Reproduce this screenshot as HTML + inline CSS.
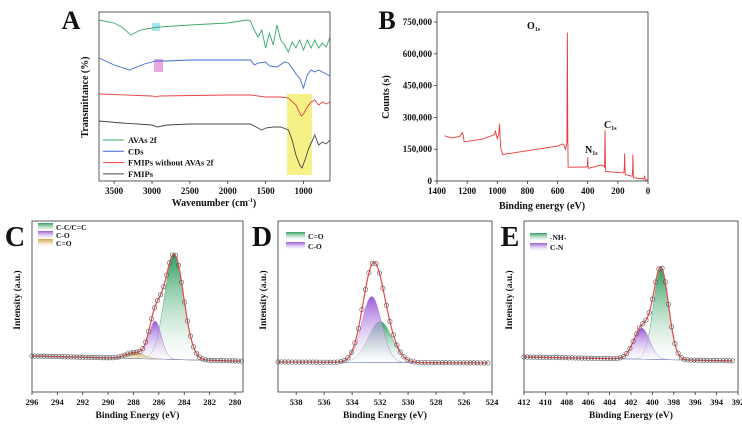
<!DOCTYPE html>
<html><head><meta charset="utf-8"><style>
html,body{margin:0;padding:0;background:#fff;}
svg{display:block;}
svg text{font-family:"Liberation Serif","DejaVu Serif",serif;font-weight:bold;}
</style></head><body>
<svg id="fig" width="742" height="425" viewBox="0 0 742 425" xmlns="http://www.w3.org/2000/svg">
<defs>
<linearGradient id="gGreen" x1="0" y1="0" x2="0" y2="1"><stop offset="0" stop-color="#2e9e5e"/><stop offset="1" stop-color="#ffffff" stop-opacity="0.3"/></linearGradient>
<linearGradient id="gPurple" x1="0" y1="0" x2="0" y2="1"><stop offset="0" stop-color="#9a5ad8"/><stop offset="1" stop-color="#ffffff" stop-opacity="0.3"/></linearGradient>
<linearGradient id="gOrange" x1="0" y1="0" x2="0" y2="1"><stop offset="0" stop-color="#d4a040"/><stop offset="1" stop-color="#ffffff" stop-opacity="0.3"/></linearGradient>
</defs>
<g id="layer"></g>
</svg>
<script>
// ---------- Panel A data (FTIR) ----------
const ftirAvasWn = [3700,3500,3400,3280,3150,3000,2900,2700,2500,2000,1750,1700,1650,1600,1550,1500,1450,1400,1350,1300,1250,1200,1150,1100,1050,1000,950,900,850,800,750,700,650];
const ftirAvasT  = [20,23,27,35,30,28,27,26,25,23,20,21,30,37,30,48,33,45,25,40,45,52,42,48,40,50,40,48,40,48,43,47,37];
const ftirCdsWn  = [3700,3500,3300,3100,2950,2800,2500,2000,1700,1650,1600,1500,1450,1350,1250,1200,1150,1100,1050,1000,950,900,850,800,750,700,650];
const ftirCdsT   = [58,65,70,64,61,61,60,60,60,65,63,62,66,67,62,63,68,74,78,88,75,70,72,70,72,74,76];
const ftirRedWn  = [3700,3000,2950,2900,2000,1700,1500,1300,1200,1100,1030,1000,950,900,850,800,750,700,650];
const ftirRedT   = [94,96,97,96,95,95,97,97,98,105,116,114,107,102,100,105,102,104,102];
const ftirBlkWn  = [3700,3400,3000,2930,2800,2500,2000,1700,1600,1550,1500,1400,1300,1200,1150,1100,1050,1020,980,930,880,850,800,750,700,650];
const ftirBlkT   = [121,123,125,127,125,124,124,124,128,130,128,127,127,130,140,155,165,168,160,148,140,135,145,142,144,140];
const ftirTicks  = [3500,3000,2500,2000,1500,1000];
const ftirLegend = ["AVAs 2f","CDs","FMIPs without AVAs 2f","FMIPs"];
// ---------- Panel B data (XPS survey) ----------
const surveyEv = [1350,1300,1250,1232,1226,1220,1100,1020,1012,1005,1000,990,985,978,965,600,565,558,548,538,535,532,530,410,402,400,398,395,310,295,288,285,282,280,200,160,157,155,153,150,105,102,100,98,95,30,25,22,20,0];
const surveyCt = [213000,203000,210000,228000,215000,185000,197000,218000,235000,212000,200000,225000,270000,160000,125000,165000,175000,170000,150000,180000,700000,200000,65000,66000,70000,112000,70000,60000,75000,70000,66000,240000,60000,45000,40000,38000,70000,130000,60000,30000,22000,50000,125000,40000,15000,10000,18000,25000,5000,5000];
const surveyXTicks = [1400,1200,1000,800,600,400,200,0];
const surveyYTicks = [0,150000,300000,450000,600000,750000];
// ---------- Panel C/D/E data (peak fits) ----------
const cCenters=[284.8,286.3,287.9], cHeights=[105,38,6], cWidths=[0.75,0.5,0.7], cNames=["C-C/C=C","C-O","C=O"];
const dCenters=[532.0,532.6], dHeights=[41,66], dWidths=[0.85,0.7], dNames=["C=O","C-O"];
const eCenters=[399.2,401.0], eHeights=[91,31], eWidths=[0.7,0.75], eNames=["-NH-","C-N"];
const cTicks=[296,294,292,290,288,286,284,282,280];
const dTicks=[538,536,534,532,530,528,526,524];
const eTicks=[412,410,408,406,404,402,400,398,396,394,392];

const NS="http://www.w3.org/2000/svg";
const L=document.getElementById('layer');
function mk(tag,at,parent){const e=document.createElementNS(NS,tag);for(const k in at)e.setAttribute(k,at[k]);(parent||L).appendChild(e);return e;}
function txt(x,y,s,size,anchor,parent){const t=mk('text',{x:x,y:y,'font-size':size,'text-anchor':anchor||'middle',fill:'#111','font-family':'Liberation Serif, serif','font-weight':'bold'},parent);t.textContent=s;return t;}
function lin(d0,d1,r0,r1){return v=>r0+(v-d0)/(d1-d0)*(r1-r0);}

// ---------- Panel A ----------
(function(){
 const g=mk('g',{});
 
 
 const x=lin(3700,650,99,330);
 mk('rect',{x:287,y:94,width:25,height:81,fill:'#f5f07a',opacity:0.9},g);
 mk('rect',{x:152,y:23,width:8,height:8,fill:'#a8e4f2'},g);
 mk('rect',{x:154,y:59,width:9,height:13,fill:'#e8a8e4'},g);
 const series=[[ftirAvasWn,ftirAvasT,'#3aaa6a','avas-2f-line'],[ftirCdsWn,ftirCdsT,'#3a6ad0','cds-line'],[ftirRedWn,ftirRedT,'#e84040','fmips-without-avas-line'],[ftirBlkWn,ftirBlkT,'#444','fmips-line']];
 series.forEach(s=>{const p=mk('polyline',{points:s[0].map((w,i)=>x(w)+','+s[1][i]).join(' '),fill:'none',stroke:s[2],'stroke-width':0.9},g);});
 mk('rect',{x:99,y:12,width:231,height:169,fill:'none',stroke:'#333','stroke-width':0.8},g);
 ftirTicks.forEach(t=>{mk('line',{x1:x(t),x2:x(t),y1:181,y2:184,stroke:'#333','stroke-width':0.8},g);const e=txt(x(t),194,String(t),9,'middle',g);});
 const xt=txt(214,206,'',10,'middle',g);xt.innerHTML='Wavenumber (cm<tspan font-size="6" dy="-4">-1</tspan><tspan dy="4">)</tspan>';
 const yt=txt(0,0,'Transmittance (%)',10,'middle',g);yt.setAttribute('transform','translate(88,97) rotate(-90)');
 const cols=['#3aaa6a','#3a6ad0','#e84040','#444'];
 ftirLegend.forEach((n,i)=>{const yy=140+i*11.3;mk('line',{x1:103,x2:124,y1:yy,y2:yy,stroke:cols[i],'stroke-width':1},g);const e=txt(128,yy+3,n,8.5,'start',g);});
 const a=txt(71,29,'A',26,'middle',g);
})();

// ---------- Panel B ----------
(function(){
 const g=mk('g',{});
 
 
 const x=lin(1400,0,437,648), y=lin(0,750000,181,22);
 const p=mk('polyline',{points:surveyEv.map((v,i)=>x(v)+','+y(surveyCt[i])).join(' '),fill:'none',stroke:'#e83838','stroke-width':0.9},g);
 
 mk('rect',{x:437,y:12,width:211,height:169,fill:'none',stroke:'#333','stroke-width':0.8},g);
 surveyXTicks.forEach(t=>{mk('line',{x1:x(t),x2:x(t),y1:181,y2:184,stroke:'#333','stroke-width':0.8},g);const e=txt(x(t),194,String(t),9,'middle',g);});
 surveyYTicks.forEach(t=>{mk('line',{x1:434,x2:437,y1:y(t),y2:y(t),stroke:'#333','stroke-width':0.8},g);const e=txt(432,y(t)+3,t.toLocaleString('en-US'),9,'end',g);});
 const xt=txt(542,209,'Binding energy (eV)',10,'middle',g);
 const yt=txt(0,0,'Counts (s)',10,'middle',g);yt.setAttribute('transform','translate(389,97) rotate(-90)');
 [['O',527,29],['N',585,153],['C',604,128]].forEach(a=>{const e=txt(a[1],a[2],'',10,'start',g);e.innerHTML=a[0]+'<tspan font-size="6" dy="2">1s</tspan>';});
 const b=txt(387,29,'B',26,'middle',g);
})();

// ---------- Peak-fit panels ----------
function fitPanel(opt){
 const g=mk('g',{});
 
 
 const x=lin(opt.x0,opt.x1,opt.px0,opt.px1);
 const base=v=>opt.b0+(v-opt.x0)/(opt.x1-opt.x0)*(opt.b1-opt.b0);
 const gauss=(v,i)=>opt.h[i]*Math.exp(-0.5*Math.pow((v-opt.c[i])/opt.w[i],2));
 const N=300, fills=['url(#gGreen)','url(#gPurple)','url(#gOrange)'], strokes=['#5aa878','#a888dd','#c8a060'];
 const xs=[];for(let k=0;k<=N;k++)xs.push(opt.x0+(opt.xe-opt.x0)*k/N);
 opt.c.forEach((_,i)=>{
   const top=xs.map(v=>x(v)+','+(base(v)-gauss(v,i)).toFixed(2));
   const bot=xs.slice().reverse().map(v=>x(v)+','+base(v).toFixed(2));
   const pg=mk('polygon',{points:top.concat(bot).join(' '),fill:fills[i],stroke:strokes[i],'stroke-width':0.5},g);
   
 });
 mk('polyline',{points:xs.map(v=>x(v)+','+base(v).toFixed(2)).join(' '),fill:'none',stroke:'#8899cc','stroke-width':0.6},g);
 const env=v=>base(v)-opt.c.reduce((s,_,i)=>s+gauss(v,i),0);
 const ev=mk('polyline',{points:xs.map(v=>x(v)+','+env(v).toFixed(2)).join(' '),fill:'none',stroke:'#e84848','stroke-width':1.2},g);
 
 const M=opt.nMarks;
 for(let k=0;k<=M;k++){const v=opt.x0+(opt.xe-opt.x0)*k/M;const c=mk('circle',{cx:x(v),cy:env(v),r:2.2,fill:'none',stroke:'#555','stroke-width':0.6},g);}
 mk('rect',{x:opt.px0,y:221,width:opt.pxR-opt.px0,height:171,fill:'none',stroke:'#333','stroke-width':0.8},g);
 opt.ticks.forEach(t=>{mk('line',{x1:x(t),x2:x(t),y1:392,y2:395,stroke:'#333','stroke-width':0.8},g);const e=txt(x(t),405,String(t),8.5,'middle',g);});
 const xt=txt((opt.px0+opt.pxR)/2,418,'Binding Energy (eV)',9.5,'middle',g);
 const yt=txt(0,0,'Intensity (a.u.)',9.5,'middle',g);yt.setAttribute('transform','translate('+(opt.px0-12)+',300) rotate(-90)');
 opt.names.forEach((n,i)=>{const yy=opt.legY+i*opt.legDy;const r=mk('rect',{x:opt.legX,y:yy-4,width:opt.legW,height:8,fill:fills[i]},g);const e=txt(opt.legX+opt.legW+3,yy+3,n,7.5,'start',g);e.setAttribute('font-weight','normal');});
 const lb=txt(opt.lx,246,opt.letter,28,'middle',g);
}
fitPanel({name:'panel-c-c1s',letter:'C',lx:15,x0:296,x1:280,xe:279.5,px0:32,px1:235,pxR:243,b0:356,b1:361,c:cCenters,h:cHeights,w:cWidths,names:cNames,ticks:cTicks,legX:38,legY:227,legDy:8,legW:15,nMarks:70});
fitPanel({name:'panel-d-o1s',letter:'D',lx:262,x0:539.3,x1:524,xe:524.3,px0:278,px1:492,pxR:492,b0:362,b1:363,c:dCenters,h:dHeights,w:dWidths,names:dNames,ticks:dTicks,legX:286,legY:236,legDy:10,legW:19,nMarks:60});
fitPanel({name:'panel-e-n1s',letter:'E',lx:510,x0:412,x1:392,xe:392.5,px0:524,px1:738,pxR:738,b0:357,b1:361,c:eCenters,h:eHeights,w:eWidths,names:eNames,ticks:eTicks,legX:530,legY:237,legDy:10,legW:17,nMarks:65});
</script>
</body></html>
